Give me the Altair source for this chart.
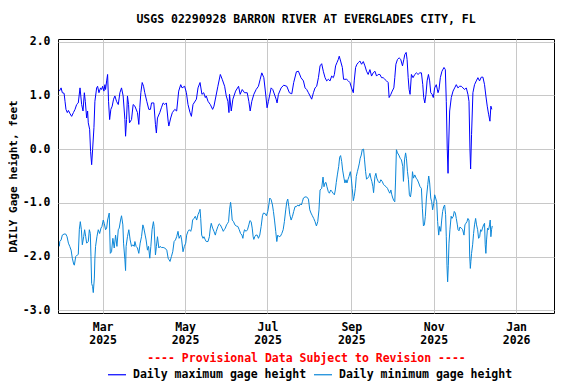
import altair as alt
import pandas as pd

# Day offsets from 2025-01-01 (fractional = position) and gage heights (ft)
max_days = [27.0, 28.3, 29.2, 30.5, 31.2, 31.9, 32.9, 33.7, 34.9, 36.1, 37.4, 38.6, 39.8, 41.0, 42.3,
            43.5, 44.5, 45.5, 46.2, 47.2, 47.9, 48.4, 49.4, 50.1, 50.9, 51.6, 52.6, 53.3, 54.6, 55.3,
            56.3, 57.5, 58.3, 59.0, 60.0, 60.7, 61.2, 62.0, 62.7, 63.4, 64.2, 65.1, 66.1, 67.1, 68.1,
            69.3, 70.6, 71.8, 73.0, 74.2, 75.5, 76.0, 76.7, 77.4, 78.2, 78.9, 80.4, 81.6, 82.9, 84.8,
            85.8, 86.5, 87.3, 88.3, 89.3, 90.2, 91.7, 93.2, 94.4, 95.2, 96.9, 98.1, 98.8, 99.6, 101.3,
            102.5, 103.8, 105.0, 106.2, 107.5, 108.0, 109.4, 110.6, 112.4, 113.8, 115.3, 116.8, 117.8,
            119.7, 121.0, 122.2, 123.7, 124.7, 125.9, 128.4, 129.6, 131.1, 132.5, 133.8, 135.0, 135.7,
            137.0, 138.7, 140.4, 141.4, 142.9, 144.3, 146.1, 147.5, 149.3, 150.5, 151.7, 152.5, 152.9,
            154.2, 155.4, 157.4, 159.6, 160.8, 162.3, 164.0, 166.0, 167.2, 168.2, 169.4, 170.9, 172.6,
            174.3, 175.6, 176.8, 178.3, 179.8, 180.7, 181.7, 183.7, 184.9, 187.4, 188.1, 189.1, 191.1,
            193.0, 195.3, 197.2, 199.0, 200.4, 202.4, 203.9, 205.8, 207.6, 208.8, 210.0, 211.3, 212.5,
            213.7, 215.0, 216.2, 217.4, 218.7, 219.9, 221.1, 222.3, 223.6, 224.8, 226.0, 227.3, 228.5,
            229.7, 230.5, 231.4, 232.4, 233.4, 234.1, 235.1, 236.4, 237.3, 238.3, 239.6, 240.8, 242.0,
            243.2, 244.5, 245.2, 246.2, 247.2, 248.2, 249.4, 250.6, 251.9, 253.1, 254.3, 255.5, 256.8,
            258.0, 259.2, 260.5, 261.7, 262.9, 264.2, 265.4, 266.6, 267.8, 269.1, 270.3, 271.0, 272.3,
            273.3, 274.5, 275.2, 276.0, 277.2, 278.4, 279.6, 280.9, 281.9, 282.6, 283.6, 284.3, 285.1,
            285.8, 286.5, 287.5, 288.7, 290.0, 291.2, 292.4, 293.7, 294.9, 295.9, 296.6, 297.4, 298.3,
            299.1, 300.1, 301.0, 301.8, 302.8, 303.7, 304.7, 305.9, 307.2, 307.9, 308.9, 310.1, 311.6,
            312.6, 313.3, 314.0, 314.6, 315.0, 315.8, 317.0, 318.3, 319.5, 320.7, 321.9, 323.2, 324.4,
            325.6, 326.9, 328.1, 329.3, 330.1, 330.8, 331.3, 332.0, 333.0, 334.2, 335.5, 336.7, 337.9,
            339.2, 340.4, 341.6, 342.6, 343.6, 344.6, 345.6, 346.3, 347.0]
max_vals = [1.08, 1.14, 1.05, 1.04, 0.89, 0.74, 0.68, 0.72, 0.66, 0.61, 0.68, 0.74, 0.83, 0.86, 1.14,
            0.83, 0.71, 1.05, 0.89, 0.58, 0.71, 0.49, 0.37, -0.04, -0.29, -0.01, 0.40, 0.89, 1.14, 1.17,
            1.05, 1.14, 1.11, 1.17, 1.08, 1.20, 1.11, 1.27, 1.39, 0.89, 0.55, 0.74, 0.80, 0.93, 0.99,
            0.89, 0.83, 1.05, 1.14, 0.99, 0.55, 0.24, 0.55, 0.99, 0.83, 0.49, 0.55, 0.83, 0.80, 0.68,
            0.46, 0.77, 1.05, 1.24, 1.17, 1.05, 0.89, 0.74, 0.74, 0.86, 0.86, 0.46, 0.30, 0.58, 0.68,
            0.77, 0.86, 0.83, 0.86, 0.52, 0.43, 0.58, 0.68, 0.74, 0.71, 1.08, 1.20, 1.14,
            1.17, 1.05, 0.83, 0.68, 0.61, 0.83, 0.93, 1.14, 1.24, 1.02, 1.05, 0.96, 0.99,
            0.89, 0.83, 0.74, 0.80, 0.99, 1.17, 1.39, 1.30, 1.17, 0.99, 0.89, 0.68, 1.02,
            0.71, 0.93, 1.08, 1.17, 1.02, 1.11, 1.05, 1.05, 0.89, 0.71, 0.89, 1.02, 1.11,
            1.17, 1.30, 1.42, 1.33, 0.99, 0.77, 0.89, 1.14, 1.11, 0.93, 0.86, 1.02, 1.14,
            1.19, 1.17, 1.05, 1.03, 1.24, 1.44, 1.45, 1.33, 1.27, 1.14, 1.11, 1.05, 0.99,
            0.93, 1.05, 1.14, 1.17, 1.33, 1.55, 1.59, 1.45, 1.33, 1.27, 1.30, 1.27, 1.36,
            1.33, 1.39, 1.55, 1.61, 1.67, 1.73, 1.64, 1.52, 1.30, 1.30, 1.30, 1.27, 1.24,
            1.14, 1.05, 1.27, 1.52, 1.58, 1.61, 1.64, 1.58, 1.63, 1.55, 1.45, 1.39, 1.48,
            1.36, 1.42, 1.45, 1.36, 1.39, 1.39, 1.33, 1.33, 1.30, 1.27, 1.24, 0.96, 1.02,
            1.08, 1.14, 1.33, 1.58, 1.67, 1.70, 1.67, 1.55, 1.67, 1.76, 1.80, 1.67, 1.33,
            1.11, 1.02, 1.39, 1.33, 1.39, 1.42, 1.39, 1.42, 1.42, 1.20, 0.96, 0.86, 1.02,
            1.27, 1.39, 1.27, 1.05, 1.02, 0.96, 1.14, 1.20, 1.05, 1.11, 1.33, 1.45, 1.52,
            1.48, 0.89, 0.02, -0.45, 0.02, 0.71, 0.96, 1.08, 1.14, 1.20, 1.14, 1.17, 1.17,
            1.14, 1.11, 1.14, 1.02, 0.89, 0.02, -0.37, 0.27, 1.05, 1.20, 1.27, 1.33, 1.27,
            1.34, 1.34, 1.20, 0.99, 0.80, 0.65, 0.52, 0.80, 0.74]

min_days = [27.0, 27.3, 28.3, 29.2, 30.5, 31.7, 32.7, 33.7, 34.7, 35.7, 36.6, 37.6, 38.1, 39.1, 40.3,
            41.0, 41.8, 42.5, 43.3, 44.0, 45.0, 45.7, 46.5, 47.2, 48.4, 49.2, 49.9, 50.4, 50.9, 51.6,
            52.1, 52.9, 53.3, 53.8, 54.8, 55.8, 56.8, 57.8, 58.5, 59.5, 60.2, 61.2, 62.0, 62.7, 63.9,
            64.7, 65.6, 66.6, 67.6, 68.6, 69.6, 70.6, 71.3, 72.3, 73.0, 74.0, 74.5, 75.5, 76.0, 76.4,
            77.4, 78.4, 79.4, 80.4, 81.4, 82.4, 82.9, 83.8, 84.8, 85.8, 86.8, 87.8, 88.8, 89.5, 90.5,
            91.2, 92.2, 93.0, 93.9, 94.7, 95.6, 96.6, 97.1, 98.1, 98.8, 99.6, 100.6, 101.5, 102.5,
            103.8, 105.0, 106.5, 107.5, 108.2, 108.9, 109.9, 110.9, 111.9, 112.9, 113.8, 114.8, 115.6,
            116.8, 117.5, 118.5, 119.5, 120.5, 121.2, 122.2, 123.2, 124.2, 124.9, 125.6, 126.6, 127.6,
            128.6, 129.6, 130.6, 131.1, 131.6, 132.3, 133.3, 134.0, 135.0, 135.7, 137.0, 138.0, 138.7,
            139.4, 140.4, 141.4, 142.4, 143.1, 144.3, 145.3, 146.1, 147.3, 148.3, 149.0, 149.8, 150.7,
            151.5, 152.2, 152.9, 153.7, 154.2, 154.9, 155.9, 156.9, 157.9, 159.1, 160.1, 161.1, 162.1,
            162.8, 163.3, 164.0, 165.2, 166.2, 167.2, 168.0, 168.9, 169.7, 170.4, 170.9, 171.6, 172.4,
            173.4, 174.3, 175.3, 176.3, 177.3, 178.0, 179.3, 180.2, 181.2, 182.0, 182.7, 183.7, 184.7,
            185.4, 186.2, 187.1, 187.9, 188.6, 189.6, 190.6, 191.6, 192.6, 193.5, 194.5, 195.3, 196.0,
            196.8, 197.5, 198.5, 199.5, 200.4, 201.4, 202.4, 203.4, 204.4, 205.3, 206.1, 206.8, 207.6,
            208.8, 210.0, 211.3, 212.3, 213.2, 214.2, 215.2, 216.2, 217.2, 218.2, 219.1, 219.9, 221.1,
            222.1, 222.8, 223.6, 224.3, 225.0, 226.0, 226.8, 227.8, 228.7, 229.5, 230.5, 231.2, 231.9,
            232.7, 233.7, 234.4, 235.1, 235.9, 236.6, 237.6, 238.3, 239.1, 239.8, 240.5, 241.3, 242.3,
            243.0, 243.7, 244.5, 245.2, 246.0, 246.7, 247.5, 248.2, 249.0, 249.6, 250.4, 251.1, 252.1,
            252.8, 253.6, 254.3, 255.1, 256.0, 256.8, 257.5, 258.2, 259.0, 259.5, 260.5, 261.2, 261.9,
            262.9, 263.9, 264.9, 265.9, 266.9, 267.8, 268.8, 269.8, 270.8, 271.5, 272.3, 273.0, 273.7,
            274.5, 275.2, 275.7, 276.4, 277.2, 278.2, 279.2, 280.1, 281.1, 281.6, 282.4, 283.2, 283.8,
            284.6, 285.3, 286.0, 286.8, 287.5, 288.3, 289.0, 290.0, 291.0, 291.9, 292.9, 293.9, 294.9,
            295.6, 296.4, 297.1, 297.8, 298.6, 299.6, 300.3, 301.0, 301.8, 302.5, 303.2, 304.0, 304.7,
            305.4, 306.2, 306.9, 307.7, 308.4, 309.2, 309.9, 310.6, 311.4, 312.1, 312.8, 313.3, 313.8,
            314.3, 314.8, 315.3, 316.0, 316.9, 317.5, 318.5, 319.2, 320.0, 320.7, 321.5, 322.0, 322.7,
            323.4, 324.4, 325.4, 326.4, 327.1, 327.8, 328.6, 329.3, 330.1, 330.6, 331.1, 331.5, 332.0,
            332.8, 333.5, 334.2, 335.0, 335.7, 336.5, 337.2, 338.0, 338.7, 339.4, 340.1, 340.9, 341.6,
            342.1, 342.6, 343.1, 343.8, 344.6, 345.3, 345.8, 346.3, 346.8, 347.3]
min_vals = [-1.81, -1.72, -1.69, -1.60, -1.58, -1.58, -1.63, -1.75, -1.81, -1.88, -2.03, -2.14, -2.16, -2.00, -1.97,
            -1.96, -1.49, -1.35, -1.50, -1.78, -1.63, -1.50, -1.63, -1.75, -1.72, -1.50, -1.57, -2.00, -2.50, -2.56,
            -2.67, -2.40, -2.03, -1.81, -1.63, -1.50, -1.57, -1.47, -1.44, -1.32, -1.38, -1.50, -1.47, -1.32, -1.19,
            -1.94, -1.91, -1.66, -1.84, -1.60, -1.81, -1.50, -1.47, -1.32, -1.24, -1.41, -1.75, -2.06, -2.26, -1.81,
            -1.63, -1.50, -1.69, -1.81, -1.78, -1.81, -1.72, -1.81, -1.84, -1.94, -1.75, -1.63, -1.41, -1.47, -1.60,
            -1.69, -1.88, -1.81, -2.03, -1.81, -1.50, -1.35, -1.44, -1.97, -1.81, -1.63, -1.84, -1.81, -1.83,
            -1.83, -1.84, -1.88, -2.03, -2.06, -2.09, -2.00, -1.91, -1.72, -1.69, -1.63, -1.53, -1.66,
            -1.60, -1.69, -1.91, -1.81, -1.75, -1.60, -1.53, -1.50, -1.53, -1.47, -1.32, -1.29, -1.25,
            -1.32, -1.22, -1.16, -1.12, -1.29, -1.60, -1.66, -1.63, -1.69, -1.72, -1.72, -1.63, -1.47,
            -1.38, -1.47, -1.53, -1.60, -1.53, -1.44, -1.39, -1.41, -1.47, -1.53, -1.50, -1.47, -1.41,
            -1.38, -1.35, -1.13, -0.99, -1.10, -1.32, -1.35, -1.41, -1.43, -1.44, -1.50, -1.57, -1.60,
            -1.66, -1.57, -1.50, -1.53, -1.50, -1.41, -1.33, -1.35, -1.47, -1.63, -1.68, -1.63, -1.60,
            -1.60, -1.66, -1.60, -1.44, -1.24, -1.19, -1.20, -1.24, -1.16, -1.04, -0.91, -0.94, -1.04,
            -1.16, -1.32, -1.53, -1.72, -1.60, -1.63, -1.62, -1.57, -1.50, -1.35, -1.13, -0.98, -0.93,
            -1.07, -1.22, -1.32, -1.25, -1.16, -1.07, -1.07, -1.04, -1.06, -1.02, -1.04, -0.98, -0.91,
            -0.89, -0.89, -0.93, -1.13, -1.19, -1.24, -1.29, -1.35, -1.43, -1.35, -1.13, -0.76, -0.73,
            -0.52, -0.70, -0.63, -0.62, -0.70, -0.79, -0.82, -0.76, -0.79, -0.82, -0.85, -0.76, -0.62,
            -0.48, -0.32, -0.15, -0.12, -0.23, -0.39, -0.54, -0.63, -0.57, -0.63, -0.57, -0.51, -0.42,
            -0.54, -0.73, -0.96, -0.88, -0.73, -0.51, -0.42, -0.35, -0.26, -0.17, -0.11, -0.01, 0.00,
            -0.20, -0.42, -0.56, -0.54, -0.51, -0.45, -0.54, -0.60, -0.70, -0.81, -0.51, -0.45, -0.54,
            -0.60, -0.63, -0.57, -0.60, -0.66, -0.68, -0.70, -0.73, -0.79, -0.82, -0.76, -0.85, -0.91,
            -0.96, -0.98, -0.63, -0.01, -0.07, -0.11, -0.17, -0.20, -0.32, -0.60, -0.20, -0.07, -0.17,
            -0.42, -0.57, -0.85, -0.89, -0.76, -0.42, -0.54, -0.48, -0.54, -0.57, -0.63, -0.70, -0.73,
            -1.10, -1.43, -1.41, -1.25, -0.91, -0.66, -0.50, -0.63, -0.91, -0.98, -1.13, -1.01, -0.85,
            -0.91, -0.98, -1.35, -1.60, -1.44, -1.53, -1.32, -1.16, -1.07, -1.04, -1.22, -1.63, -2.16,
            -2.47, -2.16, -1.75, -1.50, -1.25, -1.29, -1.25, -1.16, -1.19, -1.29, -1.41, -1.50, -1.52,
            -1.45, -1.47, -1.50, -1.60, -1.41, -1.38, -1.35, -1.29, -1.32, -1.97, -2.22, -2.09, -1.94,
            -1.78, -1.57, -1.41, -1.29, -1.41, -1.50, -1.66, -1.63, -1.50, -1.53, -1.47, -1.41, -1.38,
            -1.78, -1.94, -1.69, -1.47, -1.50, -1.41, -1.32, -1.63, -1.50, -1.43]

series_names = ["Daily maximum gage height", "Daily minimum gage height"]
series_colors = ["#0000ff", "#0a86d8"]
y_ticks = [-3, -2, -1, 0, 1, 2]
x_tick_months = [(2025, 3), (2025, 5), (2025, 7), (2025, 9), (2025, 11), (2026, 1)]

title_text = "USGS 02290928 BARRON RIVER AT EVERGLADES CITY, FL"
y_title = "DAILY Gage height, feet"
x_title = "---- Provisional Data Subject to Revision ----"

base = pd.Timestamp("2025-01-01")
df = pd.concat([
    pd.DataFrame({"date": base + pd.to_timedelta(max_days, unit="D"), "value": max_vals,
                  "series": series_names[0]}),
    pd.DataFrame({"date": base + pd.to_timedelta(min_days, unit="D"), "value": min_vals,
                  "series": series_names[1]}),
], ignore_index=True)

FONT = "DejaVu Sans Mono"

chart = alt.Chart(df).mark_line(strokeWidth=1, interpolate="linear").encode(
    x=alt.X("date:T",
            scale=alt.Scale(domain=[alt.DateTime(year=2025, month=1, date=27),
                                    alt.DateTime(year=2026, month=1, date=29)]),
            axis=alt.Axis(values=[alt.DateTime(year=y, month=m, date=1) for y, m in x_tick_months],
                          labelExpr="[timeFormat(datum.value, '%b'), timeFormat(datum.value, '%Y')]",
                          labelLineHeight=13.5, labelPadding=8, ticks=False, domain=False,
                          title=x_title, titleColor="#ff0000", titlePadding=6)),
    y=alt.Y("value:Q", scale=alt.Scale(domain=[-3.05, 2.05], nice=False, zero=False),
            axis=alt.Axis(values=y_ticks,
                          labelExpr="datum.value < 0 ? '-' + format(-datum.value, '.1f') : format(datum.value, '.1f')",
                          labelPadding=8, ticks=False, domain=False, title=y_title, titlePadding=4)),
    color=alt.Color("series:N",
                    scale=alt.Scale(domain=series_names, range=series_colors),
                    legend=alt.Legend(orient="none", legendX=49, legendY=325.5, direction="horizontal",
                                      title=None, symbolType="stroke", symbolSize=324,
                                      symbolStrokeWidth=1.2, labelOffset=6, columnPadding=4,
                                      labelLimit=0)),
).properties(
    width=496, height=274,
    title=alt.TitleParams(title_text, anchor="middle", offset=10, fontSize=11.5,
                          font=FONT, fontWeight="bold", color="#000000"),
    padding={"left": 50, "top": 31, "right": 14, "bottom": 68},
    autosize=alt.AutoSizeParams(type="none"),
).configure_axis(
    labelFont=FONT, labelFontSize=11.5, labelFontWeight="bold", labelColor="#000000",
    titleFont=FONT, titleFontSize=11.5, titleFontWeight="bold",
    gridColor="#c8c8c8", gridWidth=1, gridOpacity=1,
).configure_axisY(titleColor="#000000", titleFontSize=11) \
 .configure_legend(labelFont=FONT, labelFontSize=11.5, labelFontWeight="bold", labelColor="#000000",
                   padding=0) \
 .configure_view(stroke="#000000", strokeWidth=1)

chart.save("out.html", embed_options={"renderer": "svg", "actions": False})
